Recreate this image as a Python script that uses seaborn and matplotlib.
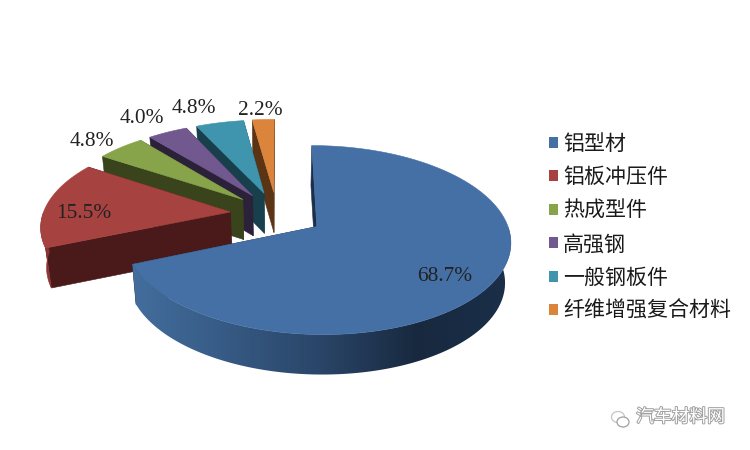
import numpy as np
import matplotlib
matplotlib.use("Agg")
import matplotlib.pyplot as plt
import matplotlib.patheffects as pe
from matplotlib.patches import Patch, Ellipse, Polygon
import seaborn as sns

categories = ["铝型材", "铝板冲压件", "热成型件", "高强钢", "一般钢板件", "纤维增强复合材料"]
shares = [68.7, 15.5, 4.8, 4.0, 4.8, 2.2]
label_texts = ["68.7%", "15.5%", "4.8%", "4.0%", "4.8%", "2.2%"]

top_colors = ["#4570A6", "#A6423F", "#87A44B", "#71588F", "#3F95AE", "#DA843C"]
wall_colors = ["#1B2F4A", "#4A1A1B", "#39431C", "#2B2139", "#17404C", "#5A3415"]
arc_colors = ["#1B2F4A", "#8A3532", "#5F7334", "#4F3E64", "#2C6979", "#99602B"]
blue_ramp = ["#446E9E", "#365A84", "#2A4568", "#18293F", "#1B2F4A"]

label_radial = [0.777, 0.77, 1.30, 1.25, 1.25, 1.20]
label_nudge = [(-6, 7), (-5, 8), (4, 8), (-7, 0), (-16, 1), (-1, 4)]

CX, CY, RX, RY, PERSP, EXPLODE, DEPTH, SHRINK = 277, 214, 187.5, 89, 0.14, 0.25, 40, 0.975

sns.set_theme(style="white")
plt.rcParams["font.family"] = ["Noto Sans CJK SC", "DejaVu Sans"]

fig = plt.figure(figsize=(7.5, 4.5), dpi=100, facecolor="white")
ax = fig.add_axes([0, 0, 1, 1])
ax.set_xlim(0, 750)
ax.set_ylim(450, 0)
ax.axis("off")


def project(u, v, bottom=False):
    u, v = np.asarray(u, float), np.asarray(v, float)
    w = 1 + PERSP * v
    x = CX + RX * u / w
    y = CY - RY * v / w
    if bottom:
        x = CX + (x - CX) * SHRINK
        y = y + DEPTH
    return x, y


def face(xs, ys, color, z):
    p = Polygon(np.column_stack([xs, ys]), closed=True, facecolor=color,
                edgecolor=color, lw=0.4, zorder=z)
    ax.add_patch(p)
    return p


fracs = np.array(shares) / sum(shares)
edges = np.concatenate([[0], np.cumsum(fracs)]) * 2 * np.pi
ramp = np.array(sns.blend_palette(blue_ramp, n_colors=256))[:, :3]

for i in range(len(shares) - 1, -1, -1):
    a0, a1 = edges[i], edges[i + 1]
    mid = (a0 + a1) / 2
    ou, ov = EXPLODE * np.sin(mid), EXPLODE * np.cos(mid)
    t = np.linspace(a0, a1, max(int((a1 - a0) * 60), 12))
    au, av = ou + np.sin(t), ov + np.cos(t)
    z = 10 + (len(shares) - i) * 3

    tx, ty = project(au, av)
    bx, by = project(au, av, bottom=True)
    tipx, tipy = project(ou, ov)
    btipx, btipy = project(ou, ov, bottom=True)

    # radial walls
    for k in (0, -1):
        face([tipx, tx[k], bx[k], btipx], [tipy, ty[k], by[k], btipy], wall_colors[i], z)

    # outer curved wall, only the part that faces the viewer
    front = np.cos(t) < 0
    if front.any():
        xs = np.r_[tx[front], bx[front][::-1]]
        ys = np.r_[ty[front], by[front][::-1]]
        if i == 0:
            clip = Polygon(np.column_stack([xs, ys]), closed=True, facecolor="none",
                           edgecolor="none", transform=ax.transData)
            ax.add_patch(clip)
            im = ax.imshow(ramp[np.newaxis, :, :], extent=(xs.min() - 1, xs.max() + 1, ys.max() + 2, ys.min() - 2),
                           aspect="auto", zorder=z + 1, interpolation="bilinear")
            im.set_clip_path(clip)
            ax.set_xlim(0, 750)
            ax.set_ylim(450, 0)
        else:
            face(xs, ys, arc_colors[i], z + 1)

    # top face
    face(np.r_[tipx, tx], np.r_[tipy, ty], top_colors[i], z + 2)

    # percentage label
    lu, lv = ou + label_radial[i] * np.sin(mid), ov + label_radial[i] * np.cos(mid)
    lx, ly = project(lu, lv)
    ax.text(lx + label_nudge[i][0], ly + label_nudge[i][1], label_texts[i],
            family=["Liberation Serif"], fontsize=15.4, color="#222222",
            ha="center", va="center", zorder=40)

handles = [Patch(facecolor=c, edgecolor="none", label=n) for c, n in zip(top_colors, categories)]
ax.legend(handles=handles, loc="upper left", bbox_to_anchor=(549, 133), bbox_transform=ax.transData,
          frameon=False, borderpad=0, borderaxespad=0, fontsize=15.1, labelcolor="#1a1a1a",
          handlelength=0.43, handleheight=0.43, handletextpad=0.25, labelspacing=0.545)

# watermark
gray = "#a0a0a0"
ax.add_patch(Ellipse((618, 417), 13, 11, fill=False, edgecolor="#c5c5c5", lw=0.9, zorder=50))
ax.add_patch(Ellipse((623, 422), 12, 10, facecolor="white", edgecolor="#a0a0a0", lw=0.9, zorder=51))
ax.text(680.5, 417, "汽车材料网", fontsize=12.8, color="white", ha="center", va="center", zorder=52,
        path_effects=[pe.withStroke(linewidth=1.4, foreground=gray)])

fig.savefig("out.png", dpi=100, facecolor="white")
